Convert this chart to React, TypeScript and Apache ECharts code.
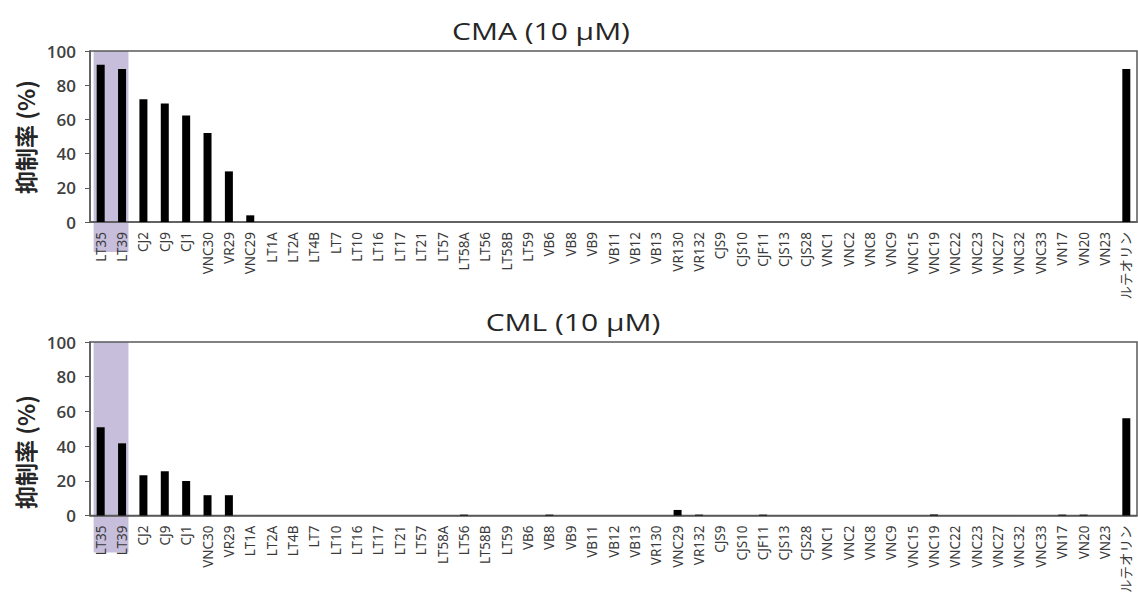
import React, { useEffect, useRef } from "react";
import * as echarts from "echarts";

// Compound screening order for the CMA panel
const categoriesCMA = [
  "LT35", "LT39", "CJ2", "CJ9", "CJ1", "VNC30", "VR29", "VNC29",
  "LT1A", "LT2A", "LT4B", "LT7", "LT10", "LT16", "LT17", "LT21", "LT57", "LT58A", "LT56", "LT58B", "LT59",
  "VB6", "VB8", "VB9", "VB11", "VB12", "VB13", "VR130", "VR132",
  "CJS9", "CJS10", "CJF11", "CJS13", "CJS28",
  "VNC1", "VNC2", "VNC8", "VNC9", "VNC15", "VNC19", "VNC22", "VNC23", "VNC27", "VNC32", "VNC33",
  "VN17", "VN20", "VN23", "ルテオリン",
];
const valuesCMA = [
  92, 89.5, 71.8, 69.3, 62.3, 52.1, 29.6, 3.9,
  0, 0, 0, 0, 0, 0, 0, 0, 0, 0, 0, 0, 0,
  0, 0, 0, 0, 0, 0, 0, 0,
  0, 0, 0, 0, 0,
  0, 0, 0, 0, 0, 0, 0, 0, 0, 0, 0,
  0, 0, 0, 89.5,
];

// Compound order for the CML panel
const categoriesCML = [
  "LT35", "LT39", "CJ2", "CJ9", "CJ1", "VNC30", "VR29",
  "LT1A", "LT2A", "LT4B", "LT7", "LT10", "LT16", "LT17", "LT21", "LT57", "LT58A", "LT56", "LT58B", "LT59",
  "VB6", "VB8", "VB9", "VB11", "VB12", "VB13", "VR130", "VNC29", "VR132",
  "CJS9", "CJS10", "CJF11", "CJS13", "CJS28",
  "VNC1", "VNC2", "VNC8", "VNC9", "VNC15", "VNC19", "VNC22", "VNC23", "VNC27", "VNC32", "VNC33",
  "VN17", "VN20", "VN23", "ルテオリン",
];
const valuesCML = [
  50.8, 41.6, 23.2, 25.5, 19.9, 11.7, 11.7,
  0, 0, 0, 0, 0, 0, 0, 0, 0, 0, 0.5, 0, 0,
  0, 0.5, 0, 0, 0, 0, 0, 3.2, 0.5,
  0, 0, 0.5, 0, 0,
  0, 0, 0, 0, 0, 0.6, 0, 0, 0, 0, 0,
  0.5, 0.5, 0, 56.1,
];

const yTicks = [0, 20, 40, 60, 80, 100];
const highlighted = ["LT35", "LT39"];
const titles = ["CMA (10 μM)", "CML (10 μM)"];
const yName = "抑制率 (%)";

const AXIS = "#595959";
const TEXT = "#404040";
const HILITE = "#c7bedb";

export default function App() {
  const ref = useRef<HTMLDivElement>(null);

  useEffect(() => {
    if (!ref.current) return;
    const chart = echarts.init(ref.current, null, { renderer: "svg" });

    const grids = [
      { left: 90, top: 51, width: 1047, height: 171 },
      { left: 90, top: 342, width: 1047, height: 174 },
    ];
    const cats = [categoriesCMA, categoriesCML];
    const vals = [valuesCMA, valuesCML];

    const xAxes = cats.map((c, i) => ({
      type: "category",
      gridIndex: i,
      data: c,
      axisLine: { show: true, lineStyle: { color: AXIS, width: 1.5 } },
      axisTick: { show: false },
      axisLabel: {
        interval: 0,
        rotate: 90,
        fontSize: 13.5,
        color: "#3a3a3a",
        margin: 10,
        fontFamily: "Noto Sans, 'Noto Sans CJK JP', sans-serif",
      },
    }));

    const yAxes = cats.map((_, i) => ({
      type: "value",
      gridIndex: i,
      min: yTicks[0],
      max: yTicks[yTicks.length - 1],
      interval: yTicks[1] - yTicks[0],
      splitLine: { show: false },
      axisLine: { show: true, lineStyle: { color: AXIS, width: 1.5 } },
      axisTick: { show: true, length: 5, lineStyle: { color: AXIS } },
      axisLabel: {
        fontSize: 17,
        fontWeight: 600,
        color: TEXT,
        margin: 14,
        fontFamily: "'Open Sans', sans-serif",
      },
    }));

    const series = vals.map((v, i) => ({
      type: "bar",
      xAxisIndex: i,
      yAxisIndex: i,
      data: v,
      barWidth: 8,
      itemStyle: { color: "#000" },
      z: 3,
    }));

    chart.setOption({
      animation: false,
      backgroundColor: "#ffffff",
      grid: grids.map((g) => ({ ...g, show: true, borderColor: AXIS, borderWidth: 1.5, backgroundColor: "transparent" })),
      xAxis: xAxes,
      yAxis: yAxes,
      series,
    });

    // Shaded band behind the highlighted compounds, extending down over their labels
    const labelDepth = [30, 37];
    const graphics: any[] = [];
    cats.forEach((c, i) => {
      const i0 = c.indexOf(highlighted[0]);
      const i1 = c.indexOf(highlighted[highlighted.length - 1]);
      const p0 = chart.convertToPixel({ xAxisIndex: i, yAxisIndex: i } as any, [i0, 100]) as number[];
      const p1 = chart.convertToPixel({ xAxisIndex: i, yAxisIndex: i } as any, [i1, 0]) as number[];
      const band = c.length > 1
        ? (chart.convertToPixel({ xAxisIndex: i } as any, 1) as number) - (chart.convertToPixel({ xAxisIndex: i } as any, 0) as number)
        : 20;
      const x0 = p0[0] - band * 0.33;
      const x1 = p1[0] + band * 0.3;
      graphics.push({
        type: "rect",
        id: "hl" + i,
        z: -10,
        shape: { x: x0, y: p0[1], width: x1 - x0, height: p1[1] - p0[1] + labelDepth[i] },
        style: { fill: HILITE },
        silent: true,
      });
    });

    // Panel titles (set a little wide, like the rest of the lettering)
    const titleCenters = [
      [541, 31],
      [573, 322],
    ];
    titleCenters.forEach(([cx, cy], i) => {
      graphics.push({
        type: "text",
        id: "tt" + i,
        x: cx,
        y: cy,
        scaleX: 1.25,
        style: {
          text: titles[i],
          fontSize: 24,
          fill: "#262626",
          align: "center",
          verticalAlign: "middle",
          fontFamily: "'Open Sans', sans-serif",
        },
      });
    });

    // Rotated y-axis captions
    const yNameCenters = [137, 452];
    yNameCenters.forEach((cy, i) => {
      graphics.push({
        type: "text",
        id: "yn" + i,
        x: 25,
        y: cy,
        rotation: Math.PI / 2,
        style: {
          text: yName,
          fontSize: 23,
          fontWeight: 600,
          fill: "#262626",
          align: "center",
          verticalAlign: "middle",
          fontFamily: "'Noto Sans CJK JP', sans-serif",
        },
      });
    });

    chart.setOption({ graphic: graphics });

    return () => chart.dispose();
  }, []);

  return <div ref={ref} style={{ position: "fixed", left: 0, top: 0, width: 1138, height: 596 }} />;
}
